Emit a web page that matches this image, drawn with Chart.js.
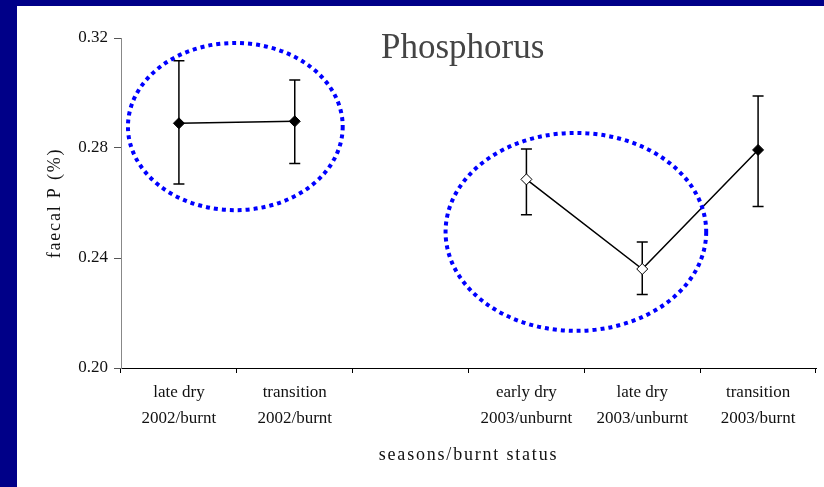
<!DOCTYPE html>
<html><head><meta charset="utf-8">
<script src="https://cdn.jsdelivr.net/npm/chart.js@4/dist/chart.umd.min.js"></script>
<style>
html,body{margin:0;padding:0;width:824px;height:487px;overflow:hidden;background:#000088;}
#panel{position:absolute;left:17px;top:6px;width:807px;height:481px;background:#fff;}
canvas{display:block;}
</style></head><body>
<div id="panel"><canvas id="c" width="807" height="481"></canvas></div>
<script>
// ---- data ----
const categories = [["late dry","2002/burnt"],["transition","2002/burnt"],"",["early dry","2003/unburnt"],["late dry","2003/unburnt"],["transition","2003/burnt"]];
const meanP   = [0.289, 0.2897, null, 0.2686, 0.236, 0.2793];
const errHigh = [0.3117, 0.3047, null, 0.2796, 0.2458, 0.2989];
const errLow  = [0.2669, 0.2744, null, 0.2557, 0.2267, 0.2587];
const burnt   = [true, true, null, false, false, true];
const yTicks  = [0.20, 0.24, 0.28, 0.32];
const chartTitle = "Phosphorus";
const yTitle = "faecal P (%)";
const xTitle = "seasons/burnt status";
// group ellipses in data units (category index, value)
const groupEllipses = [
  {cx: 0.487, cy: 0.2878, rx: 0.927, ry: 0.0304},
  {cx: 3.427, cy: 0.2495, rx: 1.125, ry: 0.036}
];

const SERIF = "'Liberation Serif','Times New Roman',serif";

const errorBars = {
  id: 'errorBars',
  beforeDatasetsDraw(chart) {
    const {ctx, scales: {x, y}} = chart;
    ctx.save();
    ctx.strokeStyle = '#000';
    ctx.lineWidth = 1.5;
    meanP.forEach((v, i) => {
      if (v === null) return;
      const px = x.getPixelForValue(i);
      const top = y.getPixelForValue(errHigh[i]);
      const bot = y.getPixelForValue(errLow[i]);
      ctx.beginPath();
      ctx.moveTo(px, top); ctx.lineTo(px, bot);
      ctx.moveTo(px - 5.5, top); ctx.lineTo(px + 5.5, top);
      ctx.moveTo(px - 5.5, bot); ctx.lineTo(px + 5.5, bot);
      ctx.stroke();
    });
    ctx.restore();
  }
};

const ellipses = {
  id: 'ellipses',
  afterDatasetsDraw(chart) {
    const {ctx, scales: {x, y}} = chart;
    ctx.save();
    ctx.strokeStyle = '#0000ff';
    ctx.lineWidth = 4;
    ctx.setLineDash([4, 4]);
    groupEllipses.forEach(e => {
      const cx = x.getPixelForValue(e.cx);
      const cy = y.getPixelForValue(e.cy);
      const rx = Math.abs(x.getPixelForValue(e.cx + e.rx) - cx);
      const ry = Math.abs(y.getPixelForValue(e.cy + e.ry) - cy);
      ctx.beginPath();
      ctx.ellipse(cx, cy, rx, ry, 0, 0, Math.PI * 2);
      ctx.stroke();
    });
    ctx.restore();
  }
};

const innerTitle = {
  id: 'innerTitle',
  afterDraw(chart) {
    const {ctx, scales: {x, y}} = chart;
    ctx.save();
    ctx.font = '35px ' + SERIF;
    ctx.fillStyle = '#444';
    ctx.textAlign = 'center';
    ctx.textBaseline = 'alphabetic';
    ctx.fillText(chartTitle, x.getPixelForValue(2.45), y.getPixelForValue(0.3127));
    ctx.restore();
  }
};

const spacedTitles = {
  id: 'spacedTitles',
  beforeDraw(chart) {
    Object.values(chart.scales).forEach(s => {
      if (s._spacedWrap) return;
      const orig = s.drawTitle.bind(s);
      s.drawTitle = function() {
        const ctx = this.ctx;
        const prev = ctx.letterSpacing;
        ctx.letterSpacing = '1.8px';
        orig();
        ctx.letterSpacing = prev || '0px';
      };
      s._spacedWrap = true;
    });
  }
};

new Chart(document.getElementById('c'), {
  type: 'line',
  data: {
    labels: categories,
    datasets: [{
      data: meanP,
      borderColor: '#000',
      borderWidth: 1.5,
      tension: 0,
      spanGaps: false,
      pointStyle: 'rectRot',
      pointRadius: 5.5,
      pointBorderWidth: 1,
      pointBorderColor: '#000',
      pointBackgroundColor: burnt.map(b => b ? '#000' : '#fff')
    }]
  },
  options: {
    responsive: false,
    animation: false,
    layout: {padding: {top: 32, right: 8, left: 0, bottom: 0}},
    plugins: {legend: {display: false}, tooltip: {enabled: false}, title: {display: false}},
    scales: {
      x: {
        type: 'category',
        offset: true,
        grid: {offset: true, drawOnChartArea: false, drawTicks: true, tickLength: 5, color: '#000'},
        border: {color: '#000', width: 1},
        ticks: {font: {family: SERIF, size: 17, lineHeight: 1.5}, color: '#111', padding: 7, maxRotation: 0, autoSkip: false},
        title: {display: true, text: xTitle, font: {family: SERIF, size: 18}, color: '#111', padding: {top: 0, bottom: 21}},
        afterFit: s => { s.height = 119; }
      },
      y: {
        min: 0.20, max: 0.32,
        afterBuildTicks: s => { s.ticks = yTicks.map(v => ({value: v})); },
        grid: {drawOnChartArea: false, drawTicks: true, tickLength: 7, color: '#555'},
        border: {color: '#888', width: 1},
        ticks: {font: {family: SERIF, size: 17}, color: '#111', padding: 6, callback: v => Number(v).toFixed(2)},
        title: {display: true, text: yTitle, font: {family: SERIF, size: 18}, color: '#111', padding: {top: 27, bottom: 0}},
        afterFit: s => { s.width = 104; }
      }
    }
  },
  plugins: [spacedTitles, errorBars, ellipses, innerTitle]
});
</script>
</body></html>
